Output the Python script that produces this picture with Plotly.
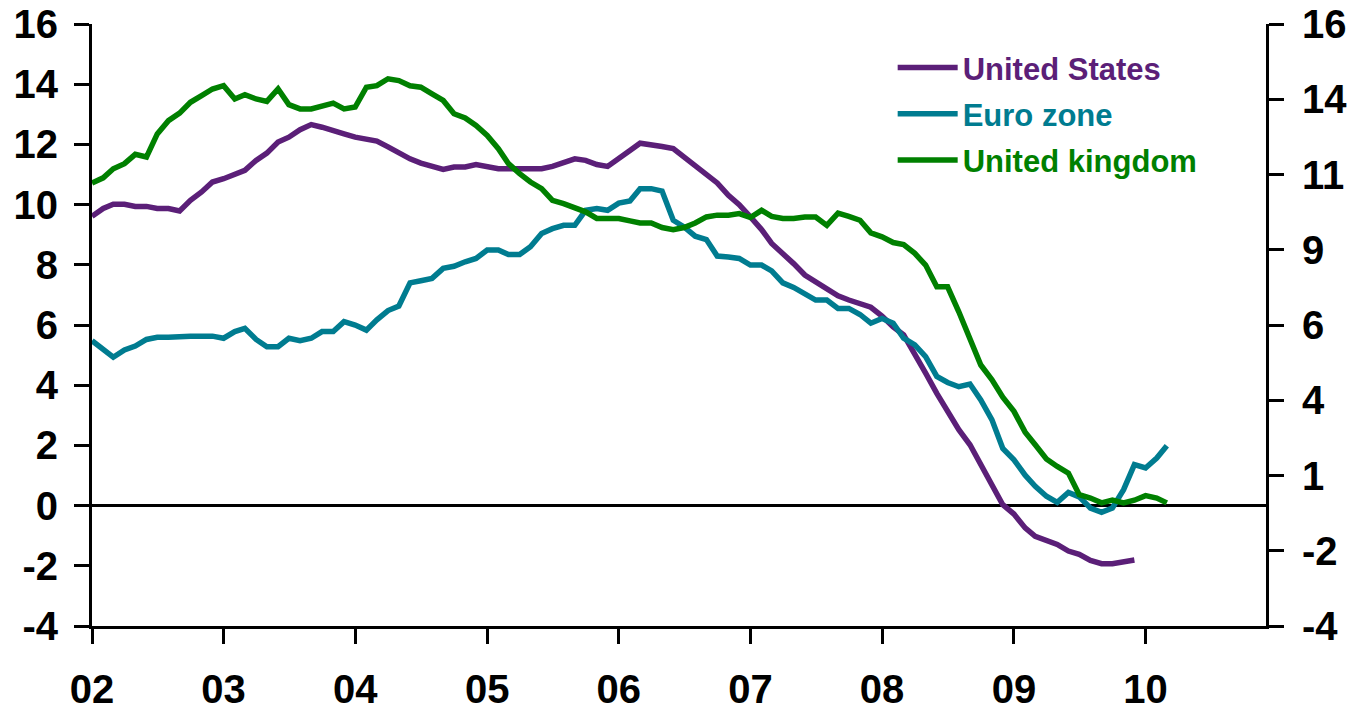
import pandas as pd
import plotly.graph_objects as go

# ---------------- data (monthly, starting Jan 2002) ----------------
start_month = "2002-01-01"

us_values = [
    9.61, 9.87, 10.01, 10.01, 9.94, 9.94, 9.87, 9.87, 9.79, 10.14, 10.42, 10.75,
    10.86, 11.00, 11.14, 11.47, 11.71, 12.08, 12.24, 12.49, 12.66, 12.57, 12.44, 12.35,
    12.24, 12.19, 12.11, 11.92, 11.72, 11.52, 11.38, 11.29, 11.17, 11.25, 11.25, 11.33,
    11.27, 11.19, 11.19, 11.19, 11.19, 11.19, 11.27, 11.38, 11.52, 11.47, 11.33, 11.27,
    11.56, 11.80, 12.04, 12.00, 11.93, 11.86, 11.58, 11.33, 11.00, 10.72, 10.31, 10.00,
    9.59, 9.17, 8.71, 8.38, 8.04, 7.66, 7.43, 7.22, 6.97, 6.83, 6.70, 6.59,
    6.30, 5.94, 5.67, 5.06, 4.40, 3.73, 3.13, 2.52, 2.02, 1.36, 0.70, 0.03,
    -0.28, -0.74, -1.02, -1.18, -1.29, -1.51, -1.62, -1.82, -1.93, -1.93, -1.88, -1.81,
]

euro_values = [
    5.48, 5.17, 4.93, 5.17, 5.30, 5.52, 5.59, 5.59, 5.63, 5.63, 5.63, 5.63,
    5.56, 5.78, 5.89, 5.52, 5.28, 5.28, 5.56, 5.48, 5.56, 5.78, 5.78, 6.11,
    6.00, 5.83, 6.17, 6.48, 6.63, 7.40, 7.47, 7.55, 7.88, 7.95, 8.10, 8.21,
    8.49, 8.49, 8.34, 8.34, 8.60, 9.04, 9.20, 9.31, 9.31, 9.81, 9.87, 9.81,
    10.05, 10.12, 10.53, 10.53, 10.45, 9.48, 9.26, 8.95, 8.84, 8.29, 8.26, 8.21,
    7.99, 7.99, 7.80, 7.40, 7.25, 7.03, 6.83, 6.83, 6.55, 6.55, 6.35, 6.06,
    6.22, 6.06, 5.56, 5.34, 4.95, 4.29, 4.09, 3.95, 4.04, 3.51, 2.85, 1.90,
    1.52, 1.01, 0.64, 0.31, 0.11, 0.44, 0.29, -0.08, -0.22, -0.08, 0.53, 1.36,
    1.25, 1.58, 1.99,
]

uk_values = [
    10.72, 10.89, 11.19, 11.36, 11.67, 11.58, 12.35, 12.79, 13.04, 13.40, 13.62, 13.84,
    13.95, 13.51, 13.65, 13.51, 13.43, 13.84, 13.32, 13.18, 13.18, 13.26, 13.37, 13.18,
    13.24, 13.90, 13.95, 14.18, 14.12, 13.95, 13.90, 13.68, 13.46, 13.02, 12.88, 12.63,
    12.30, 11.86, 11.36, 11.03, 10.75, 10.53, 10.14, 10.03, 9.87, 9.76, 9.54, 9.54,
    9.54, 9.46, 9.39, 9.39, 9.24, 9.17, 9.24, 9.39, 9.59, 9.65, 9.65, 9.70,
    9.57, 9.81, 9.61, 9.54, 9.54, 9.59, 9.59, 9.31, 9.72, 9.61, 9.48, 9.06,
    8.93, 8.74, 8.67, 8.38, 7.99, 7.27, 7.27, 6.44, 5.56, 4.67, 4.18, 3.60,
    3.13, 2.44, 2.02, 1.55, 1.30, 1.08, 0.36, 0.25, 0.09, 0.18, 0.09, 0.18,
    0.33, 0.25, 0.09,
]

series_names = ["United States", "Euro zone", "United kingdom"]
series_colors = ["#5B1F78", "#007C90", "#008000"]

left_tickvals = [-4, -2, 0, 2, 4, 6, 8, 10, 12, 14, 16]
left_ticktext = ["-4", "-2", "0", "2", "4", "6", "8", "10", "12", "14", "16"]
right_tickvals = [-4, -1.5, 1, 3.5, 6, 8.5, 11, 13.5, 16]
right_ticktext = ["-4", "-2", "1", "4", "6", "9", "11", "14", "16"]
x_range = ["2002-01-01", "2010-12-01"]

# ---------------- figure ----------------
def months(n):
    return pd.date_range(start_month, periods=n, freq="MS")

font_family = "Liberation Sans, Arial, sans-serif"

fig = go.Figure()
all_values = [us_values, euro_values, uk_values]
axes = ["y", "y", "y2"]
for i, (name, color, vals, ax) in enumerate(zip(series_names, series_colors, all_values, axes)):
    fig.add_trace(go.Scatter(
        x=months(len(vals)), y=vals, mode="lines",
        name=f'<span style="color:{color}">{name}</span>',
        line=dict(color=color, width=5.5),
        yaxis=ax, legendgroup=f"g{i}",
    ))

axis_common = dict(
    showline=True, linecolor="black", linewidth=3,
    ticks="outside", ticklen=15, tickwidth=3, tickcolor="black",
    showgrid=False, automargin=False, ticklabeloverflow="allow",
    tickfont=dict(family=font_family, size=40, color="black", weight="bold"),
)

fig.update_layout(
    width=1350, height=713,
    margin=dict(l=92, r=84, t=24, b=87),
    paper_bgcolor="white", plot_bgcolor="white",
    font=dict(family=font_family, color="black"),
    xaxis=dict(
        type="date", range=x_range, tick0=start_month, dtick="M12",
        tickformat="%y", zeroline=False, ticklabelstandoff=11,
        **axis_common,
    ),
    yaxis=dict(
        range=[-4, 16], tickvals=left_tickvals, ticktext=left_ticktext,
        zeroline=True, zerolinecolor="black", zerolinewidth=3,
        ticklabelstandoff=8,
        **axis_common,
    ),
    yaxis2=dict(
        range=[-4, 16], overlaying="y", side="right",
        tickvals=right_tickvals, ticktext=right_ticktext,
        zeroline=False, ticklabelstandoff=10,
        **axis_common,
    ),
    legend=dict(
        x=0.682, y=0.972, xanchor="left", yanchor="top",
        font=dict(family=font_family, size=31, weight="bold"),
        bgcolor="rgba(0,0,0,0)", tracegroupgap=3, itemwidth=60,
    ),
    showlegend=True,
)

# remove the default page margin so the figure fills the window exactly
fig.write_html(
    "out.html",
    config={"displayModeBar": False},
    post_script="document.body.style.margin='0';document.body.style.overflow='hidden';",
)
